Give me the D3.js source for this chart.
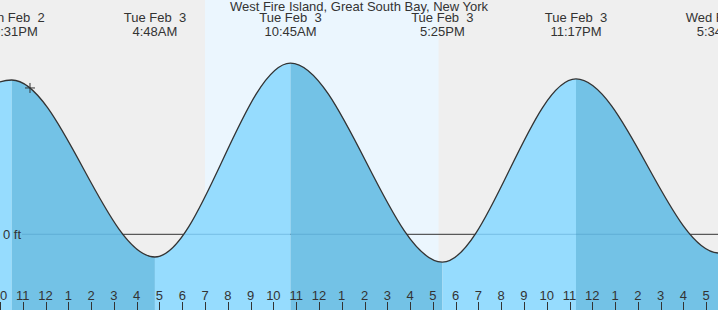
<!DOCTYPE html>
<html lang="en">
<head>
    <meta charset="UTF-8">
    <title>West Fire Island tide chart</title>
    <style>
        body { margin: 0; background: #fff; }
        svg text {
            font-family: "Liberation Sans", Arial, sans-serif;
            font-size: 13px;
            fill: #333;
            white-space: pre;
        }
        .curve { fill: none; stroke: #333; stroke-width: 1.3px; }
        .tick { stroke: #333; stroke-width: 1px; }
    </style>
</head>
<body>
    <div id="chart"></div>
    <script src="https://d3js.org/d3.v7.min.js"></script>
    <script>
        // tide events (UTC used as "local" clock), heights in ft
        // first and last entries lie off the chart, they only shape the curve ends
        const eventTimes = [
            "2026-02-02T16:20", "2026-02-02T22:31", "2026-02-03T04:48",
            "2026-02-03T10:45", "2026-02-03T17:25", "2026-02-03T23:17",
            "2026-02-04T05:34", "2026-02-04T11:40"
        ];
        const eventHeights = [-0.6, 4.28, -0.63, 4.75, -0.77, 4.31, -0.52, 4.5];
        const eventLabels = [
            null, ["Mon Feb  2", "10:31PM"], ["Tue Feb  3", "4:48AM"],
            ["Tue Feb  3", "10:45AM"], ["Tue Feb  3", "5:25PM"],
            ["Tue Feb  3", "11:17PM"], ["Wed Feb  4", "5:34AM"], null
        ];
        const sunrise = "2026-02-03T07:00";
        const sunset = "2026-02-03T17:15";
        const nowMark = ["2026-02-02T23:19", 4.06];
        const title = "West Fire Island, Great South Bay, New York";

        const width = 718, height = 310;
        const parse = d3.utcParse("%Y-%m-%dT%H:%M");
        const events = eventTimes.map((t, i) => ({ t: parse(t), h: eventHeights[i], label: eventLabels[i] }));

        const x = d3.scaleUtc()
            .domain([parse("2026-02-02T22:00"), parse("2026-02-04T05:31")])
            .range([0, width]);
        const y = d3.scaleLinear().domain([-2.1, 6.5]).range([height, 0]);

        const svg = d3.select("#chart").append("svg")
            .attr("width", width)
            .attr("height", height);

        svg.append("rect").attr("width", width).attr("height", height).attr("fill", "#efefef");
        svg.append("rect")
            .attr("x", x(parse(sunrise)))
            .attr("width", x(parse(sunset)) - x(parse(sunrise)))
            .attr("height", height)
            .attr("fill", "#ebf6fe");

        // zero line (dark where it shows above the water)
        svg.append("line")
            .attr("x1", 22).attr("x2", width)
            .attr("y1", y(0)).attr("y2", y(0))
            .attr("stroke", "#333").attr("stroke-width", 1);

        const area = d3.area()
            .x(d => x(d.t))
            .y0(height)
            .y1(d => y(d.h))
            .curve(d3.curveMonotoneX);

        svg.append("clipPath").attr("id", "water")
            .append("path").attr("d", area(events));

        const water = svg.append("g").attr("clip-path", "url(#water)");

        // rising tide light, falling tide darker
        for (let i = 0; i < events.length - 1; i++) {
            const a = events[i], b = events[i + 1];
            water.append("rect")
                .attr("x", x(a.t))
                .attr("width", x(b.t) - x(a.t))
                .attr("height", height)
                .attr("fill", b.h > a.h ? "#96dcfe" : "#73c2e6");
        }
        water.append("line")
            .attr("x1", 22).attr("x2", width)
            .attr("y1", y(0)).attr("y2", y(0))
            .attr("stroke", "#3c8ab8").attr("stroke-opacity", 0.35);

        svg.append("path")
            .attr("class", "curve")
            .attr("d", d3.line().x(d => x(d.t)).y(d => y(d.h)).curve(d3.curveMonotoneX)(events));

        // current time cross
        const nx = x(parse(nowMark[0])), ny = y(nowMark[1]);
        svg.append("path")
            .attr("d", `M${nx - 5},${ny}H${nx + 5}M${nx},${ny - 5}V${ny + 5}`)
            .attr("stroke", "#333").attr("stroke-width", 1);

        svg.append("text").attr("x", 3).attr("y", y(0) + 5).text("0 ft");

        // hour ticks
        const hours = x.ticks(d3.utcHour.every(1));
        const fmt = d3.utcFormat("%-I");
        const axis = svg.append("g");
        axis.selectAll("line").data(hours).join("line")
            .attr("class", "tick")
            .attr("x1", d => Math.round(x(d)) + 0.5).attr("x2", d => Math.round(x(d)) + 0.5)
            .attr("y1", 302).attr("y2", height)
            .attr("stroke-width", d => d.getUTCHours() === 0 ? 3 : 1);
        axis.selectAll("text").data(hours).join("text")
            .attr("x", d => x(d))
            .attr("y", 300)
            .attr("text-anchor", "middle")
            .text(d => fmt(d));

        // event labels
        const lab = svg.append("g").selectAll("g")
            .data(events.filter(d => d.label))
            .join("g")
            .attr("transform", d => `translate(${x(d.t)},0)`);
        lab.append("text").attr("y", 22).attr("text-anchor", "middle").text(d => d.label[0]);
        lab.append("text").attr("y", 36).attr("text-anchor", "middle").text(d => d.label[1]);

        svg.append("text")
            .attr("x", width / 2).attr("y", 11)
            .attr("text-anchor", "middle")
            .text(title);
    </script>
</body>
</html>
